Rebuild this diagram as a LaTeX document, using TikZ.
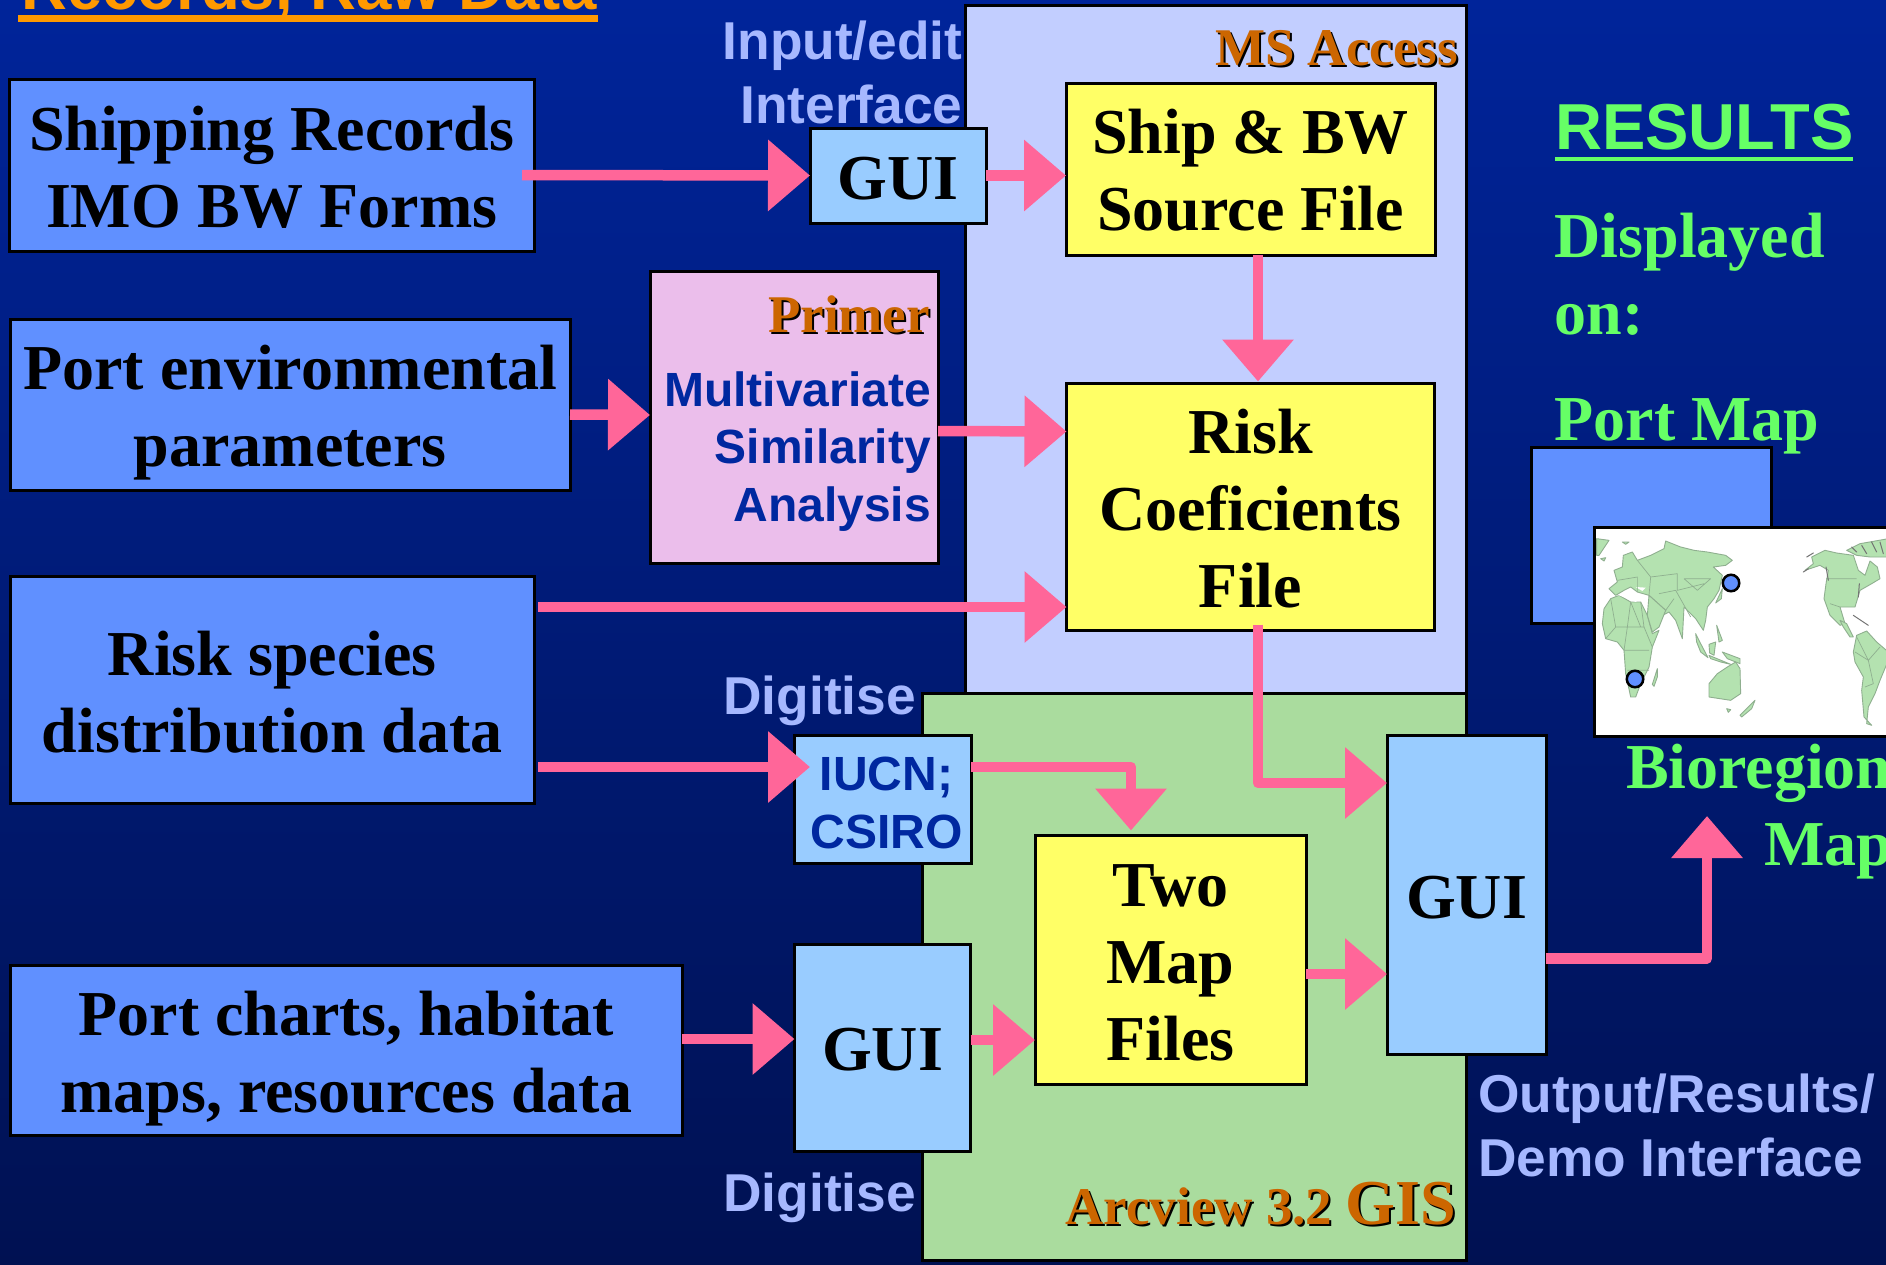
\documentclass[tikz,border=0pt]{standalone}
\usepackage{fontspec}
\setmainfont{Liberation Serif}
\newfontfamily\arialf{Liberation Sans}
\usetikzlibrary{arrows.meta}
\definecolor{bgtop}{HTML}{00249A}
\definecolor{bgbot}{HTML}{001152}
\definecolor{srcblue}{HTML}{6090FF}
\definecolor{guiblue}{HTML}{99CCFF}
\definecolor{fileyellow}{HTML}{FFFF66}
\definecolor{flowpink}{HTML}{FF6699}
\definecolor{accessblue}{HTML}{C2CEFF}
\definecolor{gisgreen}{HTML}{AADC9E}
\definecolor{primerpink}{HTML}{EBBEEB}
\definecolor{toolorange}{HTML}{CC6600}
\definecolor{resgreen}{HTML}{66FF66}
\definecolor{labelblue}{HTML}{A6B8FF}
\definecolor{darkblue}{HTML}{0028A0}
\definecolor{headorange}{HTML}{FF9900}
\definecolor{landgreen}{HTML}{B4E2B0}
\definecolor{landedge}{HTML}{8FAF8F}
\newcommand{\shad}[1]{\rlap{\kern2pt\raisebox{-2pt}{\color{black}#1}}#1}
\newcommand{\topfill}[1]{\rule{0pt}{#1pt}}
\tikzset{
  plainbox/.style={draw=black,line width=3pt,outer sep=0pt,inner sep=0pt,align=center,
    font=\bfseries\fontsize{64}{77}\selectfont,text=black},
  srcbox/.style={plainbox,fill=srcblue},
  guibox/.style={plainbox,fill=guiblue},
  filebox/.style={plainbox,fill=fileyellow},
  flow/.style={draw=flowpink,line width=10.5pt,line join=round,
    -{Triangle[length=42pt,width=69pt]}},
  sanslabel/.style={text=labelblue,inner sep=0pt,outer sep=0pt,
    font=\arialf\bfseries\fontsize{53.3}{64}\selectfont},
  bluelabel/.style={text=darkblue,inner sep=0pt,outer sep=0pt,
    font=\arialf\bfseries\fontsize{48}{58}\selectfont},
  toollabel/.style={text=toolorange,inner sep=0pt,outer sep=0pt,anchor=base east,
    font=\bfseries\fontsize{53}{64}\selectfont},
  reslabel/.style={text=resgreen,inner sep=0pt,outer sep=0pt,anchor=base west,
    font=\bfseries\fontsize{64}{77}\selectfont},
  land/.style={fill=landgreen,draw=landedge,line width=0.9pt,line join=round},
  border/.style={draw=landedge,line width=0.7pt,line join=round},
  speck/.style={draw=black!55,line width=1pt,line cap=round},
}
\begin{document}
\begin{tikzpicture}[x=1pt,y=-1pt]
\useasboundingbox (0,0) rectangle (1886,1264);
\begin{scope}
\clip (0,0) rectangle (1886,1264);
\shade[top color=bgtop,bottom color=bgbot] (0,0) rectangle (1886,1264);

% heading
\node[anchor=base west,text=headorange,inner sep=0pt,font=\arialf\bfseries\fontsize{63.5}{76}\selectfont] (heading) at (21,9) {Records, Raw Data};
\fill[headorange] (18,15) rectangle (598,22);

% panels
\node[plainbox,fill=accessblue,minimum width=501pt,minimum height=688pt] (access) at (1216,349) {};
\node[plainbox,fill=gisgreen,minimum width=544pt,minimum height=567pt] (gis) at (1194.5,976.5) {};
\node[toollabel] (mslabel) at (1458,65) {\shad{MS Access}};
\node[toollabel] (arclabel) at (1456,1224) {\shad{Arcview 3.2} \fontsize{64}{64}\selectfont\shad{GIS}};

% source boxes
\node[srcbox,minimum width=524.5pt,minimum height=172pt] (ship) at (271.75,165) {\topfill{49}Shipping Records\\IMO BW Forms};
\node[srcbox,minimum width=559.5pt,minimum height=171pt] (portenv) at (290.25,405) {\topfill{60}Port environmental\\parameters};
\node[srcbox,minimum width=523.5pt,minimum height=227pt] (risksp) at (272.25,689.5) {\topfill{50}Risk species\\distribution data};
\node[srcbox,minimum width=671.5pt,minimum height=170pt] (charts) at (346.25,1050) {\topfill{62}Port charts, habitat\\maps, resources data};

% interfaces and files
\node[guibox,minimum width=176pt,minimum height=95pt] (guione) at (898,175.5) {\topfill{48}GUI};
\node[filebox,minimum width=369pt,minimum height=172pt] (shipbw) at (1250.5,169) {\topfill{46}Ship \& BW\\Source File};
\node[filebox,minimum width=368pt,minimum height=247pt] (riskc) at (1250.5,507) {\topfill{48}Risk\\Coeficients\\File};
\node[plainbox,fill=primerpink,minimum width=288pt,minimum height=292pt] (primer) at (794,417.5) {};
\node[toollabel] (primerlabel) at (930,332) {\shad{Primer}};
\node[bluelabel,anchor=base east] (mv) at (931,406) {Multivariate};
\node[bluelabel,anchor=base east] (sim) at (931,463) {Similarity};
\node[bluelabel,anchor=base east] (ana) at (931,521) {Analysis};
\node[plainbox,fill=guiblue,minimum width=177pt,minimum height=128pt,text=darkblue,
  font=\arialf\bfseries\fontsize{48}{58}\selectfont] (iucn) at (882.5,799) {\hspace*{8pt}\topfill{42}IUCN;\\\hspace*{8pt}CSIRO};
\node[guibox,minimum width=176pt,minimum height=207pt] (guitwo) at (882.5,1047.5) {\topfill{46}GUI};
\node[filebox,minimum width=271pt,minimum height=249pt] (two) at (1170.5,960) {\topfill{48}Two\\Map\\Files};
\node[guibox,minimum width=159pt,minimum height=319pt] (guithree) at (1466.5,895) {\topfill{48}GUI};

% interface labels
\node[sanslabel,anchor=base east] (inputl) at (962.5,59) {Input/edit};
\node[sanslabel,anchor=base east] (interl) at (962.5,123) {Interface};
\node[sanslabel,anchor=base west] (digone) at (723.5,714) {Digitise};
\node[sanslabel,anchor=base west] (digtwo) at (723.5,1211) {Digitise};
\node[sanslabel,anchor=base west] (outl) at (1478,1112) {Output/Results/};
\node[sanslabel,anchor=base west] (demol) at (1478,1176) {Demo Interface};

% results
\node[anchor=base west,text=resgreen,inner sep=0pt,font=\arialf\bfseries\fontsize{65}{78}\selectfont] (results) at (1555,149) {RESULTS};
\fill[resgreen] (1555,157) rectangle (1853,161);
\node[reslabel] (displayed) at (1554.5,257) {Displayed};
\node[reslabel] (onl) at (1554.5,334) {on:};
\node[reslabel] (portmapl) at (1554.5,440) {Port Map};
\node[srcbox,minimum width=240pt,minimum height=176pt] (portmap) at (1651,535) {};
\node[plainbox,fill=white,minimum width=306pt,minimum height=209pt] (worldmap) at (1747,631.5) {};
% map, old world
\begin{scope}[shift={(1594,527)},x=0.3333pt,y=-0.3333pt]
  \path[land] (30,245)--(50,215)--(75,205)--(110,225)--(140,225)--(160,265)--(175,320)--(195,310)--(175,360)--(165,420)--(140,470)--(125,510)--(110,510)--(95,440)--(90,370)--(70,345)--(35,335)--(25,290)--cycle;
  \path[land] (65,205)--(45,185)--(70,165)--(60,130)--(85,120)--(88,85)--(115,75)--(130,100)--(170,85)--(210,65)--(215,42)--(260,60)--(300,70)--(340,75)--(395,85)--(415,100)--(395,115)--(358,120)--(385,145)--(375,190)--(360,215)--(340,240)--(335,280)--(328,310)--(305,275)--(270,240)--(265,335)--(245,280)--(225,255)--(205,265)--(215,250)--(165,205)--(130,195)--(110,180)--(90,190)--cycle;
  \path[land] (165,205)--(215,250)--(195,300)--(175,315)--(160,265)--cycle;
  \path[land] (305,320)--(320,350)--(342,392)--(320,375)--(308,345)--cycle;
  \path[land] (345,385)--(410,412)--(380,405)--(350,395)--cycle;
  \path[land] (345,352)--(365,345)--(360,385)--(347,378)--cycle;
  \path[land] (385,375)--(438,395)--(438,410)--(400,395)--cycle;
  \path[land] (365,228)--(385,185)--(382,215)--cycle;
  \path[land] (345,470)--(370,440)--(400,420)--(425,405)--(438,425)--(440,500)--(410,520)--(345,510)--cycle;
  \path[land] (398,545)--(410,548)--(403,556)--cycle;
  \path[land] (175,472)--(190,425)--(190,450)--(180,478)--cycle;
  \path[land] (8,35)--(45,40)--(15,85)--(8,85)--cycle;
  \path[land] (20,95)--(35,92)--(30,102)--cycle;
  \path[land] (85,45)--(105,45)--(95,52)--cycle;
  \path[land] (368,295)--(385,340)--(375,345)--cycle;
  \path[fill=white] (70,205)--(100,195)--(150,205)--(125,225)--(75,205)--cycle;
  \path[fill=white] (125,180)--(155,182)--(145,192)--cycle;
  \draw[border] (50,215)--(65,300)--(35,335) (110,225)--(100,300)--(90,370) (140,225)--(150,300)--(175,360) (65,300)--(150,300) (90,370)--(165,370) (100,430)--(165,430) (110,225)--(140,300);
  \draw[border] (170,150)--(250,140)--(250,190)--(330,170) (245,190)--(290,270) (270,155)--(350,155)--(310,190)--(270,155) (130,100)--(170,150)--(165,205) (70,160)--(130,150)--(130,195) (195,200)--(245,190) (215,250)--(240,215);
\end{scope}
% map, new world
\begin{scope}[shift={(1740,527)},x=0.3333pt,y=-0.3333pt]
  \path[land] (195,130)--(220,110)--(215,90)--(255,70)--(290,78)--(340,85)--(355,130)--(375,145)--(390,102)--(412,120)--(420,155)--(395,170)--(360,190)--(345,240)--(320,240)--(300,240)--(315,290)--(300,295)--(270,265)--(252,215)--(258,170)--(265,130)--(240,115)--cycle;
  \path[land] (300,280)--(320,290)--(340,330)--(330,330)--(310,300)--cycle;
  \path[land] (320,70)--(360,50)--(445,35)--(445,90)--(390,90)--(350,85)--cycle;
  \path[land] (340,375)--(350,325)--(380,312)--(410,345)--(445,375)--(445,400)--(420,460)--(405,500)--(385,540)--(380,590)--(395,595)--(372,570)--(365,490)--(370,450)--(345,405)--cycle;
  \path[land] (0,565)--(45,520)--(35,545)--(5,570)--cycle;
  \draw[border] (258,155)--(350,155) (350,330)--(385,400)--(400,470)--(375,480) (345,375)--(385,400)--(420,360) (270,230)--(300,240);
  \draw[speck] (258,120)--(265,160) (200,90)--(220,78) (335,60)--(350,75) (365,55)--(380,80) (395,45)--(410,75) (420,45)--(430,80) (340,265)--(385,295) (358,170)--(355,210) (190,135)--(205,125);
\end{scope}
\node[circle,fill=srcblue,draw=black,line width=2.5pt,minimum size=16.5pt,inner sep=0pt] (dotone) at (1731,583) {};
\node[circle,fill=srcblue,draw=black,line width=2.5pt,minimum size=16.5pt,inner sep=0pt] (dottwo) at (1635,679) {};
\node[reslabel] (biol) at (1626,788) {Bioregion};
\node[reslabel] (mapl) at (1764,865) {Map};
\coordinate (biotip) at (1707,816);

% connectors
\draw[flow] ([xshift=-12pt,yshift=-10pt]ship.east) -- (guione.west);
\draw[flow] (guione.east) -- ([yshift=-6.5pt]shipbw.west);
\draw[flow] ([xshift=7.5pt]shipbw.south) -- ([xshift=7.5pt,yshift=2pt]riskc.north);
\draw[flow] ([yshift=-9.5pt]portenv.east) -- ([yshift=2.5pt]primer.west);
\draw[flow] ([yshift=-13.5pt]primer.east) -- ([yshift=75.5pt]riskc.west);
\draw[flow] ([xshift=4pt,yshift=82.5pt]risksp.east) -- ([yshift=-100pt]riskc.west);
\draw[flow] ([xshift=4pt,yshift=-77.5pt]risksp.east) -- ([xshift=16pt,yshift=32pt]iucn.west);
\draw[flow] ([yshift=32pt]iucn.east) -| ([xshift=-39.5pt,yshift=5pt]two.north);
\draw[flow] ([xshift=7.5pt,yshift=6pt]riskc.south) |- ([yshift=112pt]guithree.west);
\draw[flow] ([yshift=-14pt]two.east) -- ([yshift=-79pt]guithree.west);
\draw[flow] ([yshift=7.5pt]guitwo.east) -- ([yshift=-80pt]two.west);
\draw[flow] ([yshift=11pt]charts.east) -- ([yshift=8.5pt]guitwo.west);
\draw[flow] ([yshift=-63.5pt]guithree.east) -| (biotip);
\end{scope}
\end{tikzpicture}
\end{document}
